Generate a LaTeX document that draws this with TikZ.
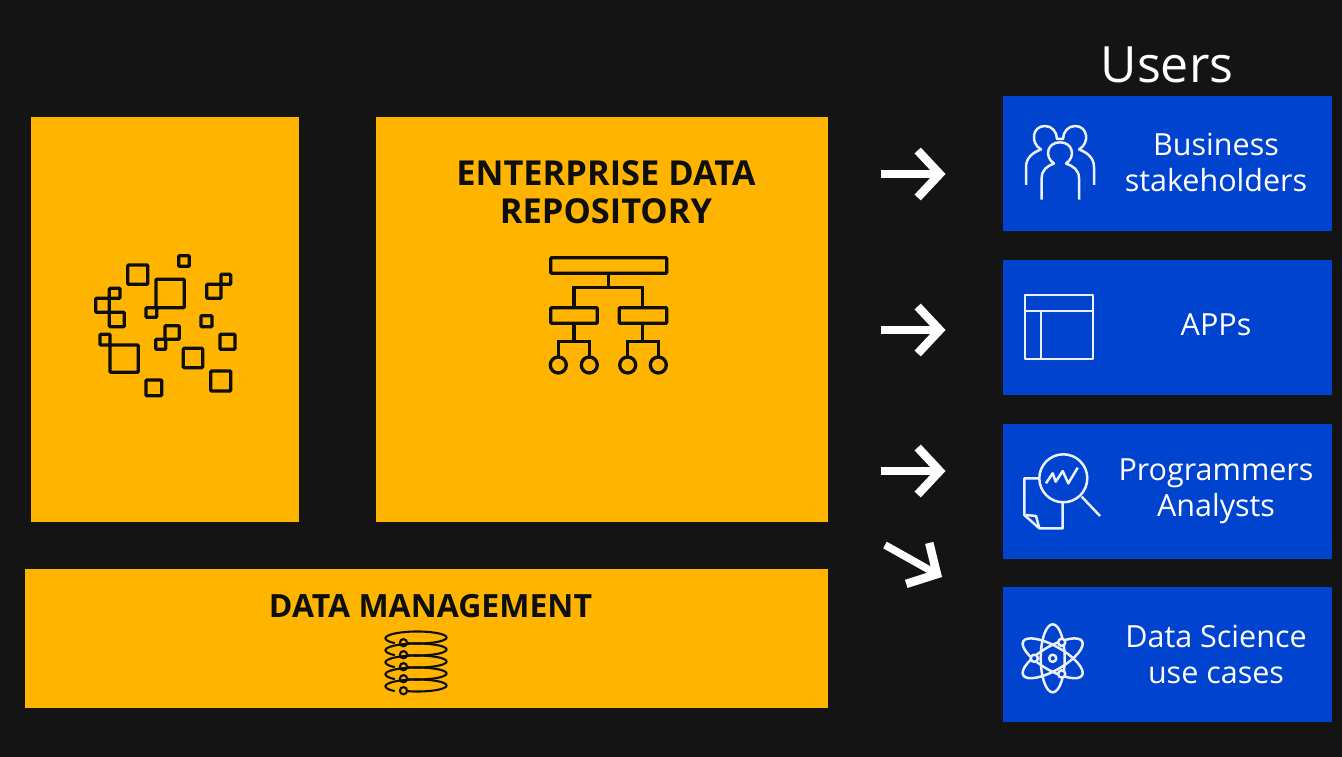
\documentclass[tikz,border=0pt]{standalone}
\usepackage{fontspec}
\setmainfont{Open Sans}
\usetikzlibrary{arrows.meta}
\definecolor{bgc}{HTML}{141414}
\definecolor{amber}{HTML}{FFB400}
\definecolor{royal}{HTML}{0043CE}
\definecolor{ink}{HTML}{0E0E0E}
\tikzset{
  panel/.style={fill=amber,draw=none,inner sep=0pt,outer sep=0pt},
  userbox/.style={fill=royal,draw=none,inner sep=0pt,outer sep=0pt,minimum width=329pt,minimum height=135pt},
  headline/.style={text=ink,font=\fontsize{34.4}{38.5}\selectfont\bfseries,align=center,inner sep=0pt},
  usertext/.style={text=white,font=\fontsize{30.5}{36}\selectfont,align=center,inner sep=0pt},
  darkicon/.style={draw=ink,line width=3.3pt,rounded corners=1pt},
  whiteicon/.style={draw=white!92!royal,line width=2.5pt,line join=round},
  flow/.style={draw=white,line width=7.5pt,-{Straight Barb[length=22pt,width=47pt,line width=8.5pt,sharp]}},
}
\begin{document}
\begin{tikzpicture}[x=1pt,y=-1pt]
\useasboundingbox (0,0) rectangle (1342,757);
\fill[bgc] (0,0) rectangle (1342,757);
% panels
\node[panel,minimum width=268pt,minimum height=405pt] (lake) at (165,319.5) {};
\node[panel,minimum width=452pt,minimum height=405pt] (edr) at (602,319.5) {};
\node[panel,minimum width=803pt,minimum height=139pt] (dm) at (426.5,638.5) {};
\node[headline] (edrtitle) at (606,192) {ENTERPRISE DATA\\REPOSITORY};
\node[headline,font=\fontsize{32}{38}\selectfont\bfseries] (dmtitle) at (430.5,606) {DATA MANAGEMENT};
% scattered squares
\foreach \a/\b/\c/\d in {127.7/265/147.7/284.3,178.7/255.7/189.3/266.3,156/279.3/184.3/307.7,146/307.7/156.7/317.3,206.7/284.3/221/298.3,221/274.3/230.7/284.3,109.3/288.3/120/298.3,95.7/298.3/109.3/312.3,109.3/312.3/124.3/326.7,201/315.7/212/326.7,165/325.7/179.3/339.3,155.7/339.3/165.7/349.3,220/334.3/235/349.3,100/334.3/110/345,110/345/138.3/372.3,183.3/348.3/202.7/367.7,210.7/371/230.7/391,146/380/161.7/395.7}
  \draw[darkicon] (\a,\b) rectangle (\c,\d);
% hierarchy icon
\draw[darkicon] (550.7,257.7) rectangle (666.7,273.3);
\draw[darkicon] (550.7,307.7) rectangle (597.3,323.3);
\draw[darkicon] (619.3,307.7) rectangle (666.7,323.3);
\draw[darkicon,rounded corners=0pt] (608.7,273.3) -- (608.7,287.7) (574,307.7) -- (574,287.7) -- (642.7,287.7) -- (642.7,307.7);
\draw[darkicon,rounded corners=0pt] (574,323.3) -- (574,341.7) (558.3,357) -- (558.3,341.7) -- (589.3,341.7) -- (589.3,357);
\draw[darkicon,rounded corners=0pt] (642.7,323.3) -- (642.7,341.7) (627.7,357) -- (627.7,341.7) -- (658.3,341.7) -- (658.3,357);
\foreach \a in {558.3,589.3,627.7,658.3}
  \draw[darkicon] (\a,365) circle (8);
% helix icon
\foreach \i in {0,1,2,3,4}{
  \draw[draw=ink,line width=2.1pt] plot[domain=112:-226,samples=70] ({416+30.5*cos(\x)},{637+12*\i+6.4*sin(\x)+1.5*(\x-112)/-338});
  \draw[draw=ink,fill=amber,line width=2.1pt] (403.5,642.7+12*\i) circle (3.6);
}
% users
\node[text=white,font=\fontsize{50}{60}\selectfont,inner sep=0pt] (users) at (1167,65) {Users};
\node[userbox] (u1) at (1167.5,163.5) {};
\node[userbox] (u2) at (1167.5,327.5) {};
\node[userbox] (u3) at (1167.5,491) {};
\node[userbox] (u4) at (1167.5,654.5) {};
\node[usertext] (t1) at (1216,162.5) {Business\\stakeholders};
\node[usertext] (t2) at (1216,325) {APPs};
\node[usertext] (t3) at (1216,491) {Programmers\\Analysts};
\node[usertext] (t4) at (1216,654.5) {Data Science\\use cases};
% people icon
\draw[whiteicon] (1026,185) -- (1026,167) .. controls (1026,157) and (1034,152) .. (1041,149.5) .. controls (1030,143) and (1032,126) .. (1045,126) .. controls (1052,126) and (1057,132) .. (1057,139) -- (1063,139) .. controls (1063,132) and (1068,126) .. (1075,126) .. controls (1088,126) and (1090,143) .. (1079,149.5) .. controls (1086,152) and (1094,157) .. (1094,167) -- (1094,185);
\draw[whiteicon] (1041.7,199.7) -- (1041.7,178) .. controls (1041.7,170) and (1047,166) .. (1054,163.5) .. controls (1044,157) and (1047,142.3) .. (1060,142.3) .. controls (1073,142.3) and (1076,157) .. (1066,163.5) .. controls (1073,166) and (1079,170) .. (1079,178) -- (1079,199.7);
% app icon
\draw[whiteicon,line width=2pt] (1024.5,295) rectangle (1093,359);
\draw[whiteicon,line width=2pt] (1024.5,311) -- (1093,311) (1041,311) -- (1041,359);
% search icon
\draw[whiteicon] (1063.3,478.3) circle (24);
\draw[whiteicon] (1081.7,496.7) -- (1100,516);
\draw[whiteicon] (1046,483.3) -- (1052.7,473.3) -- (1055.7,481.7) -- (1062.7,471) -- (1068.3,483.3) -- (1077.7,467.7);
\draw[whiteicon] (1038.3,478.3) -- (1024.3,478.3) -- (1024.3,515) -- (1039.3,528.3) -- (1062.7,528.3) -- (1062.7,502.3);
\draw[whiteicon] (1026,515) -- (1036,516) -- (1039.3,528.3);
% atom icon
\coordinate (atom) at (1052.7,658.3);
\foreach \r in {90,30,-30}
  \draw[whiteicon,rotate around={\r:(atom)}] (atom) ellipse [x radius=34pt,y radius=12pt];
\foreach \a/\b in {1052.7/658.3,1061.7/642.3,1034.3/658.3,1061.7/674}
  \draw[whiteicon,fill=royal] (\a,\b) circle (3.6);
% arrows
\coordinate (a1s) at (881,174); \coordinate (a1e) at (945.5,174);
\coordinate (a2s) at (881,330); \coordinate (a2e) at (945.5,330);
\coordinate (a3s) at (881,471); \coordinate (a3e) at (945.5,471);
\coordinate (a4s) at (885,545); \coordinate (a4e) at (942,577);
\draw[flow] (a1s) -- (a1e);
\draw[flow] (a2s) -- (a2e);
\draw[flow] (a3s) -- (a3e);
\draw[flow] (a4s) -- (a4e);
\end{tikzpicture}
\end{document}
